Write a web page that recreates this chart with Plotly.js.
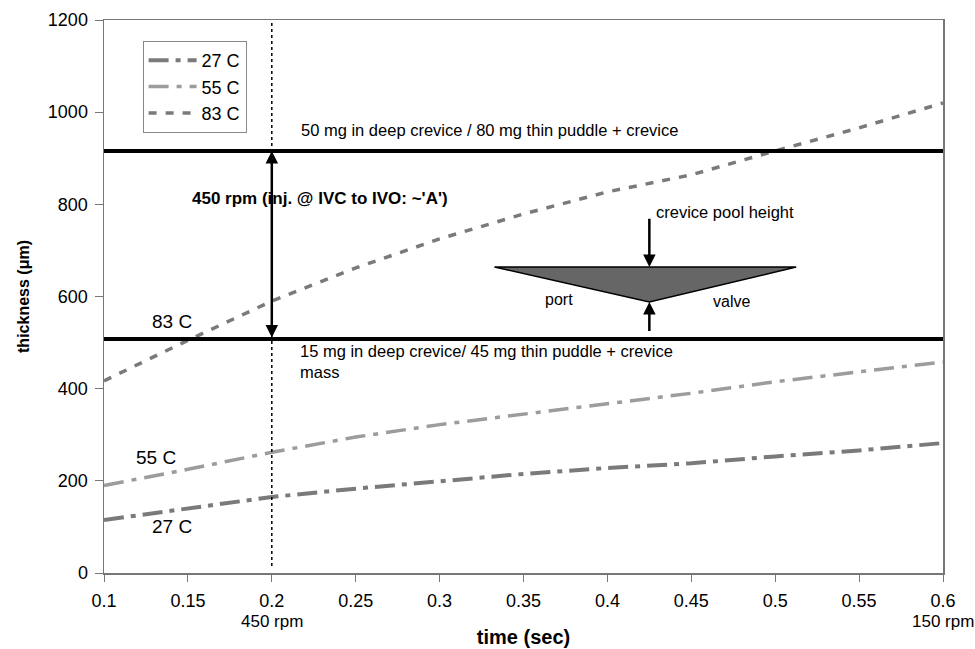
<!DOCTYPE html>
<html>
<head>
<meta charset="utf-8">
<script src="https://cdn.plot.ly/plotly-3.0.1.min.js"></script>
<style>html,body{margin:0;padding:0;background:#fff}#chart{width:975px;height:649px}</style>
</head>
<body>
<div id="chart"></div>
<script>
// ---- data ----
const timeSec = [0.1, 0.15, 0.2, 0.25, 0.3, 0.35, 0.4, 0.45, 0.5, 0.55, 0.6];
const thick27C = [115, 140, 165, 183, 200, 215, 228, 238, 253, 266, 282];
const thick55C = [190, 225, 262, 295, 322, 345, 368, 390, 415, 437, 458];
const thick83C = [417, 505, 590, 662, 725, 779, 827, 864, 916, 966, 1020];
const seriesNames = ['27 C', '55 C', '83 C'];
const xTickVals = [0.1, 0.15, 0.2, 0.25, 0.3, 0.35, 0.4, 0.45, 0.5, 0.55, 0.6];
const xTickText = ['0.1', '0.15', '0.2', '0.25', '0.3', '0.35', '0.4', '0.45', '0.5', '0.55', '0.6'];
const yTickVals = [0, 200, 400, 600, 800, 1000, 1200];
const upperLevel = 916;   // 50 mg / 80 mg level
const lowerLevel = 508;   // 15 mg / 45 mg level
const markTime = 0.2;     // 450 rpm marker
// crevice sketch (triangle) vertices in data units
const triX = [0.3327, 0.5125, 0.425];
const triY = [664, 664, 588];

const font = 'Liberation Sans, Arial, sans-serif';

const traces = [
  {x: timeSec, y: thick27C, name: seriesNames[0], mode: 'lines',
   line: {color: '#7a7a7a', width: 4, dash: '20px,7px,5px,7px'}},
  {x: timeSec, y: thick55C, name: seriesNames[1], mode: 'lines',
   line: {color: '#9c9c9c', width: 3.5, dash: '20px,8px,5px,8px'}},
  {x: timeSec, y: thick83C, name: seriesNames[2], mode: 'lines',
   line: {color: '#7a7a7a', width: 3.5, dash: '8px,9px'}}
];

const triPath = 'M ' + triX[0] + ',' + triY[0] + ' L ' + triX[1] + ',' + triY[1] +
                ' L ' + triX[2] + ',' + triY[2] + ' Z';

const shapes = [
  {type: 'line', xref: 'x', yref: 'y', x0: markTime, x1: markTime, y0: 15, y1: 1200,
   line: {color: '#000', width: 1.5, dash: 'dot'}},
  {type: 'line', xref: 'paper', yref: 'y', x0: 0, x1: 1, y0: upperLevel, y1: upperLevel,
   line: {color: '#000', width: 4}},
  {type: 'line', xref: 'paper', yref: 'y', x0: 0, x1: 1, y0: lowerLevel, y1: lowerLevel,
   line: {color: '#000', width: 4}},
  {type: 'path', xref: 'x', yref: 'y', path: triPath,
   fillcolor: '#666666', line: {color: '#000', width: 1.5}}
];

const annotations = [
  // double-headed arrow between levels
  {x: markTime, y: upperLevel, ax: markTime, ay: lowerLevel, xref: 'x', yref: 'y',
   axref: 'x', ayref: 'y', text: '', showarrow: true, arrowhead: 2, arrowside: 'end+start',
   arrowsize: 1, arrowwidth: 2.5, arrowcolor: '#000'},
  // crevice pool arrows
  {x: triX[2], y: triY[0], ax: triX[2], ay: 772, xref: 'x', yref: 'y', axref: 'x', ayref: 'y',
   text: '', showarrow: true, arrowhead: 2, arrowsize: 1, arrowwidth: 2.5, arrowcolor: '#000'},
  {x: triX[2], y: triY[2], ax: triX[2], ay: 522, xref: 'x', yref: 'y', axref: 'x', ayref: 'y',
   text: '', showarrow: true, arrowhead: 2, arrowsize: 1, arrowwidth: 2.5, arrowcolor: '#000'},
  {x: 0.428, y: 783, xref: 'x', yref: 'y', xanchor: 'left', yanchor: 'middle', showarrow: false,
   text: 'crevice pool height', font: {family: font, size: 16.5, color: '#000'}},
  {x: 0.3714, y: 594, xref: 'x', yref: 'y', xanchor: 'center', yanchor: 'middle', showarrow: false,
   text: 'port', font: {family: font, size: 16, color: '#000'}},
  {x: 0.4740, y: 590, xref: 'x', yref: 'y', xanchor: 'center', yanchor: 'middle', showarrow: false,
   text: 'valve', font: {family: font, size: 16, color: '#000'}},
  {x: 0.1512, y: 812, xref: 'x', yref: 'y', xanchor: 'left', yanchor: 'middle', showarrow: false,
   text: "<b>450 rpm (inj. @ IVC to IVO: ~'A')</b>", font: {family: font, size: 17, color: '#000'}},
  {x: 0.2161, y: 961, xref: 'x', yref: 'y', xanchor: 'left', yanchor: 'middle', showarrow: false,
   text: '50 mg in deep crevice / 80 mg thin puddle + crevice', font: {family: font, size: 16.5, color: '#000'}},
  {x: 0.2155, y: 459, xref: 'x', yref: 'y', xanchor: 'left', yanchor: 'middle', showarrow: false, align: 'left',
   text: '15 mg in deep crevice/ 45 mg thin puddle + crevice<br>mass', font: {family: font, size: 16.5, color: '#000'}},
  {x: 0.1405, y: 545, xref: 'x', yref: 'y', showarrow: false, text: '83 C',
   font: {family: font, size: 19, color: '#000'}},
  {x: 0.131, y: 250, xref: 'x', yref: 'y', showarrow: false, text: '55 C',
   font: {family: font, size: 19, color: '#000'}},
  {x: 0.1405, y: 102, xref: 'x', yref: 'y', showarrow: false, text: '27 C',
   font: {family: font, size: 19, color: '#000'}},
  {x: markTime, y: -0.087, xref: 'x', yref: 'paper', showarrow: false, text: '450 rpm',
   yanchor: 'middle', font: {family: font, size: 17, color: '#000'}},
  {x: 0.6, y: -0.087, xref: 'x', yref: 'paper', showarrow: false, text: '150 rpm',
   yanchor: 'middle', font: {family: font, size: 17, color: '#000'}}
];

const layout = {
  width: 975, height: 649,
  margin: {l: 104, r: 32, t: 20, b: 76},
  paper_bgcolor: '#fff', plot_bgcolor: '#fff',
  font: {family: font, size: 18, color: '#000'},
  showlegend: true,
  legend: {x: 0.046, y: 0.962, xanchor: 'left', yanchor: 'top', bgcolor: '#fff',
           bordercolor: '#888', borderwidth: 1, font: {family: font, size: 18},
           tracegroupgap: 0, itemwidth: 48},
  xaxis: {range: [0.1, 0.6], tickvals: xTickVals, ticktext: xTickText,
          showgrid: false, zeroline: false, showline: true, linecolor: '#777', linewidth: 1.5,
          mirror: true, ticks: 'outside', ticklen: 7, tickcolor: '#777',
          tickfont: {family: font, size: 18}, ticklabelstandoff: 4,
          title: {text: '<b>time (sec)</b>', font: {family: font, size: 20}, standoff: 20}},
  yaxis: {range: [0, 1200], tickvals: yTickVals, showgrid: false, zeroline: false,
          showline: true, linecolor: '#777', linewidth: 1.5, mirror: true,
          ticks: 'outside', ticklen: 8, tickcolor: '#777',
          tickfont: {family: font, size: 18}, ticklabelstandoff: 3,
          title: {text: '<b>thickness (\u03bcm)</b>', font: {family: font, size: 16}, standoff: 14}},
  shapes: shapes,
  annotations: annotations
};

Plotly.newPlot('chart', traces, layout, {displayModeBar: false, staticPlot: true});
</script>
</body>
</html>
